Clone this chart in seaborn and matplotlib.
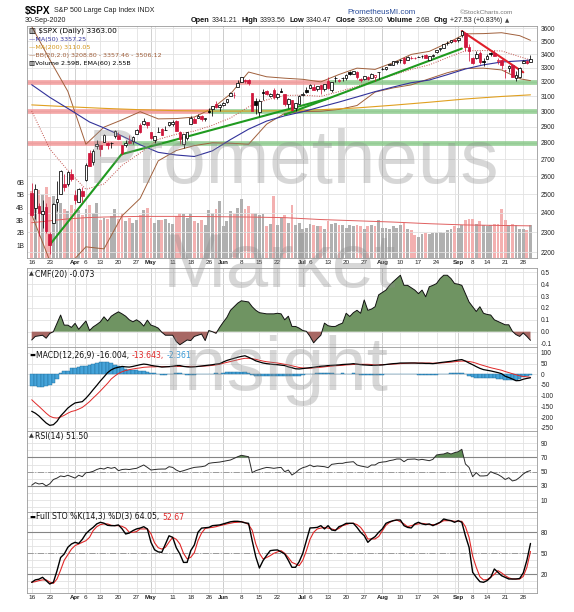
import numpy as np
import pandas as pd
import matplotlib
matplotlib.use("Agg")
import matplotlib.pyplot as plt
from matplotlib.ticker import FixedLocator, NullLocator, FixedFormatter
import seaborn as sns

sns.set_theme(style="white")
plt.rcParams['font.family'] = ['Liberation Sans', 'DejaVu Sans']
plt.rcParams['axes.linewidth'] = 0.6

# ---------------- data ----------------
holidays = ['2020-04-10', '2020-05-25', '2020-07-03', '2020-09-07']
dates = pd.bdate_range('2020-03-16', '2020-09-30')
dates = dates[~dates.isin(pd.to_datetime(holidays))]

prev_close = 2711.02

opens = [2508.59, 2425.66, 2436.50, 2393.48, 2431.94, 2290.71, 2344.44, 2457.77, 2501.29, 2555.87,
         2558.98, 2614.69, 2498.08, 2458.54, 2514.92, 2578.28, 2738.65, 2685.00, 2776.99, 2782.46,
         2805.10, 2795.64, 2799.34, 2842.43, 2845.62, 2784.81, 2787.89, 2810.42, 2812.64, 2854.65,
         2909.96, 2918.46, 2930.91, 2869.09, 2815.01, 2868.88, 2883.14, 2878.26, 2908.83, 2915.46,
         2939.50, 2865.86, 2794.54, 2829.95, 2913.86, 2948.59, 2953.63, 2969.95, 2948.05, 3004.08,
         3015.65, 3046.61, 3025.17, 3038.78, 3064.78, 3098.90, 3111.56, 3163.84, 3199.92, 3213.32,
         3213.42, 3123.53, 3071.04, 2993.76, 3131.00, 3136.13, 3101.64, 3140.29, 3094.42, 3138.70,
         3114.40, 3046.60, 3073.20, 3018.59, 3050.20, 3105.92, 3143.64, 3155.29, 3166.44, 3153.07,
         3176.17, 3152.47, 3205.08, 3141.11, 3225.98, 3208.36, 3224.21, 3224.29, 3268.52, 3254.86,
         3271.64, 3218.58, 3219.84, 3234.27, 3227.22, 3231.76, 3270.45, 3288.26, 3289.92, 3317.37,
         3323.17, 3340.05, 3356.04, 3370.34, 3355.46, 3372.95, 3368.66, 3380.86, 3387.04, 3392.51,
         3360.48, 3386.01, 3418.09, 3435.95, 3449.97, 3485.14, 3494.69, 3509.73, 3507.44, 3543.76,
         3564.74, 3453.60, 3371.88, 3369.82, 3412.56, 3352.70, 3363.56, 3407.73, 3411.23, 3346.86,
         3357.38, 3285.57, 3295.75, 3320.11, 3226.14, 3236.66, 3333.90, 3350.92, 3341.21]
highs = [2562.98, 2553.93, 2453.57, 2466.97, 2453.01, 2300.73, 2449.71, 2571.42, 2637.01, 2615.91,
         2631.80, 2641.39, 2522.75, 2533.22, 2538.18, 2676.85, 2756.89, 2760.75, 2818.57, 2782.46,
         2851.85, 2801.88, 2806.51, 2879.22, 2868.98, 2785.54, 2815.10, 2844.90, 2842.71, 2887.72,
         2921.15, 2954.86, 2930.91, 2869.09, 2844.24, 2898.23, 2891.11, 2901.92, 2932.16, 2944.25,
         2945.82, 2874.14, 2852.80, 2865.01, 2968.09, 2964.21, 2980.29, 2978.50, 2956.76, 3021.72,
         3036.25, 3068.67, 3049.17, 3062.18, 3081.07, 3130.94, 3128.91, 3211.72, 3233.13, 3222.71,
         3223.27, 3123.53, 3088.42, 3079.76, 3153.45, 3141.16, 3120.00, 3155.53, 3120.92, 3154.90,
         3115.01, 3086.25, 3073.73, 3053.89, 3111.51, 3128.44, 3165.81, 3182.59, 3184.15, 3171.80,
         3179.78, 3186.82, 3235.32, 3200.95, 3238.28, 3220.39, 3233.52, 3258.61, 3277.29, 3279.32,
         3279.99, 3227.26, 3241.43, 3243.72, 3264.74, 3250.92, 3272.17, 3302.73, 3306.84, 3330.77,
         3351.03, 3352.54, 3363.29, 3381.01, 3387.89, 3387.24, 3378.51, 3387.59, 3395.06, 3399.54,
         3390.80, 3399.96, 3432.09, 3444.21, 3481.07, 3501.38, 3509.23, 3514.77, 3528.03, 3588.11,
         3564.85, 3479.15, 3379.97, 3424.77, 3425.55, 3368.95, 3402.93, 3419.48, 3428.92, 3375.17,
         3362.27, 3285.57, 3320.31, 3323.35, 3278.70, 3306.88, 3360.74, 3357.92, 3393.56]
lows = [2380.94, 2367.04, 2280.52, 2319.78, 2295.56, 2191.86, 2344.44, 2407.53, 2500.72, 2520.02,
        2545.28, 2571.15, 2447.49, 2455.79, 2459.96, 2574.57, 2657.67, 2663.30, 2762.36, 2721.17,
        2805.10, 2761.54, 2764.32, 2830.88, 2820.43, 2727.10, 2775.95, 2794.26, 2791.76, 2852.89,
        2860.71, 2912.16, 2892.47, 2821.61, 2797.85, 2863.55, 2847.65, 2876.48, 2902.88, 2903.44,
        2869.59, 2793.15, 2766.64, 2816.78, 2913.86, 2922.35, 2953.63, 2938.57, 2933.59, 2988.17,
        2969.75, 3023.40, 2998.61, 3031.54, 3051.64, 3098.90, 3090.41, 3163.84, 3196.00, 3193.11,
        3181.49, 2999.49, 2984.47, 2965.66, 3076.06, 3108.03, 3093.51, 3083.11, 3079.39, 3127.12,
        3032.13, 3024.01, 3004.63, 2999.74, 3047.83, 3101.17, 3124.52, 3155.29, 3142.93, 3136.53,
        3115.70, 3136.22, 3149.43, 3127.66, 3200.76, 3198.59, 3205.65, 3215.16, 3247.77, 3253.10,
        3222.66, 3200.05, 3214.25, 3216.17, 3227.22, 3204.13, 3220.26, 3284.53, 3286.37, 3317.37,
        3318.14, 3328.72, 3335.44, 3326.44, 3355.46, 3363.35, 3361.64, 3379.22, 3370.15, 3369.66,
        3354.69, 3379.31, 3413.13, 3425.84, 3444.15, 3468.35, 3484.32, 3493.25, 3494.60, 3535.23,
        3427.41, 3349.63, 3329.27, 3366.84, 3329.25, 3310.47, 3363.56, 3389.25, 3384.45, 3328.82,
        3292.40, 3229.10, 3270.95, 3232.57, 3209.45, 3228.44, 3332.91, 3327.54, 3340.47]
close = [2386.13, 2529.19, 2398.10, 2409.39, 2304.92, 2237.40, 2447.33, 2475.56, 2630.07, 2541.47,
         2626.65, 2584.59, 2470.50, 2526.90, 2488.65, 2663.68, 2659.41, 2749.98, 2789.82, 2761.63,
         2846.06, 2783.36, 2799.55, 2874.56, 2823.16, 2736.56, 2799.31, 2797.80, 2836.74, 2878.48,
         2863.39, 2939.51, 2912.43, 2830.71, 2842.74, 2868.44, 2848.42, 2881.19, 2929.80, 2930.32,
         2870.12, 2820.00, 2852.50, 2863.70, 2953.91, 2922.94, 2971.61, 2948.51, 2955.45, 2991.77,
         3036.13, 3029.73, 3044.31, 3055.73, 3080.82, 3122.87, 3112.35, 3193.93, 3232.39, 3207.18,
         3190.14, 3002.10, 3041.31, 3066.59, 3124.74, 3113.49, 3115.34, 3097.74, 3117.86, 3131.29,
         3050.33, 3083.76, 3009.05, 3053.24, 3100.29, 3115.86, 3130.01, 3179.72, 3145.32, 3169.94,
         3152.05, 3185.04, 3155.22, 3197.52, 3226.56, 3215.57, 3224.73, 3251.84, 3257.30, 3276.02,
         3235.66, 3215.63, 3239.41, 3218.44, 3258.44, 3246.22, 3271.12, 3294.61, 3306.51, 3327.77,
         3349.16, 3351.28, 3360.47, 3333.69, 3380.35, 3373.43, 3372.85, 3381.99, 3389.78, 3374.85,
         3385.51, 3397.16, 3431.28, 3443.62, 3478.73, 3484.55, 3508.01, 3500.31, 3526.65, 3580.84,
         3455.06, 3426.96, 3331.84, 3398.96, 3339.19, 3340.97, 3383.54, 3401.20, 3385.49, 3357.01,
         3319.47, 3281.06, 3315.57, 3236.92, 3246.59, 3298.46, 3351.60, 3335.47, 3363.00]
volume_b = [5.3, 5.0, 5.4, 5.1, 5.6, 4.8, 4.9, 4.6, 4.4, 3.9,
            3.7, 4.2, 3.9, 3.8, 3.4, 3.9, 4.2, 3.6, 4.4, 3.0,
            3.2, 3.1, 3.3, 3.9, 3.1, 3.6, 2.9, 3.2, 2.8, 3.0,
            3.4, 3.8, 4.0, 3.2, 2.8, 3.0, 3.0, 3.1, 2.8, 2.7,
            3.3, 3.6, 3.5, 3.2, 3.6, 2.9, 2.8, 3.0, 2.6, 3.8,
            3.6, 3.9, 4.5, 2.5, 2.9, 3.7, 3.5, 4.0, 4.7, 3.9,
            4.1, 3.6, 3.6, 3.4, 3.5, 2.5, 2.7, 4.9, 2.6, 3.2,
            3.4, 2.8, 4.2, 2.6, 2.8, 2.3, 2.4, 2.7, 2.6, 2.5,
            2.5, 2.3, 2.9, 2.7, 2.8, 2.6, 2.6, 2.4, 2.6, 2.5,
            2.6, 2.5, 2.3, 2.5, 2.6, 2.5, 3.0, 2.4, 2.4, 2.3,
            2.5, 2.4, 2.6, 2.8, 2.3, 2.2, 1.8, 1.7, 1.9, 2.0,
            1.9, 2.0, 2.0, 2.1, 2.0, 2.2, 2.3, 2.5, 2.4, 2.6,
            3.0, 3.1, 3.1, 2.7, 2.9, 2.6, 2.5, 2.6, 2.7, 2.7,
            3.9, 3.0, 2.6, 2.7, 2.6, 2.3, 2.3, 2.2, 2.59]

vol_ema_dates = ['2020-03-16', '2020-03-23', '2020-03-30', '2020-04-06', '2020-04-14', '2020-04-28',
                 '2020-05-12', '2020-05-27', '2020-06-10', '2020-06-24', '2020-07-09', '2020-07-23',
                 '2020-08-06', '2020-08-20', '2020-09-03', '2020-09-18', '2020-09-30']
vol_ema = [2.8, 2.95, 3.1, 3.2, 3.25, 3.3, 3.3, 3.28, 3.25, 3.2, 3.05, 2.95, 2.85, 2.72, 2.62, 2.58, 2.55]

ma50_dates = ['2020-03-16', '2020-03-23', '2020-03-31', '2020-04-07', '2020-04-14', '2020-04-21',
              '2020-04-28', '2020-05-05', '2020-05-12', '2020-05-19', '2020-05-27', '2020-06-03',
              '2020-06-10', '2020-06-17', '2020-06-24', '2020-07-01', '2020-07-09', '2020-07-16',
              '2020-07-23', '2020-07-30', '2020-08-06', '2020-08-13', '2020-08-20', '2020-08-27',
              '2020-09-03', '2020-09-11', '2020-09-18', '2020-09-25', '2020-09-30']
ma50 = [3180, 3093, 3004, 2930, 2892, 2841, 2787, 2741, 2725, 2716, 2750, 2819, 2884, 2936, 2970,
        2997, 3029, 3061, 3096, 3132, 3164, 3194, 3213, 3251, 3292, 3322, 3343, 3351, 3357.25]

ma200_dates = ['2020-03-16', '2020-03-30', '2020-04-14', '2020-04-28', '2020-05-12', '2020-05-27',
               '2020-06-10', '2020-06-24', '2020-07-09', '2020-07-23', '2020-08-06', '2020-08-20',
               '2020-09-03', '2020-09-18', '2020-09-30']
ma200 = [3042, 3030, 3019, 3010, 3004, 3001, 3001, 3003, 3010, 3022, 3040, 3060, 3082, 3099, 3110.05]

bb_dates = ['2020-03-16', '2020-03-23', '2020-03-30', '2020-04-06', '2020-04-14', '2020-04-21',
            '2020-04-28', '2020-05-05', '2020-05-12', '2020-05-19', '2020-05-27', '2020-06-03',
            '2020-06-10', '2020-06-17', '2020-06-24', '2020-07-01', '2020-07-09', '2020-07-16',
            '2020-07-23', '2020-07-30', '2020-08-06', '2020-08-13', '2020-08-20', '2020-08-27',
            '2020-09-03', '2020-09-11', '2020-09-18', '2020-09-25', '2020-09-30']
bb_mid = [3002, 2761, 2634, 2527, 2557, 2664, 2737, 2820, 2852, 2872, 2909, 2956, 3029, 3076, 3106,
          3108, 3100, 3132, 3168, 3209, 3248, 3289, 3322, 3375, 3426, 3428, 3425, 3382, 3357.46]
bb_upper = [3615, 3360, 3134, 2790, 2897, 2944, 2997, 2950, 2952, 2962, 3019, 3116, 3270, 3236, 3226,
            3218, 3200, 3252, 3298, 3289, 3338, 3399, 3422, 3485, 3556, 3558, 3565, 3542, 3506.12]
bb_lower = [2390, 2160, 2134, 2227, 2217, 2384, 2477, 2690, 2752, 2782, 2799, 2796, 2790, 2916, 2986,
            2998, 3000, 3012, 3038, 3129, 3158, 3179, 3222, 3265, 3296, 3298, 3285, 3222, 3208.80]

# hand-drawn trend lines: (start date, start price, end date, end price)
green_lines = [('2020-03-23', 2237, '2020-04-21', 2733),
               ('2020-04-21', 2730, '2020-07-13', 3085),
               ('2020-06-24', 2977, '2020-09-02', 3443)]
red_lines = [('2020-09-02', 3578, '2020-09-28', 3268)]
# support / resistance bands: (price, date where colour switches from red to green)
bands = [(3200, '2020-07-13'), (3000, '2020-05-26'), (2800, '2020-04-21')]

cmf = [-0.07, -0.04, -0.035, -0.03, -0.055, -0.015, 0.00, 0.07, 0.14, 0.055,
       0.055, 0.036, 0.07, 0.02, 0.055, 0.09, 0.01, 0.04, 0.06, 0.083,
       0.125, 0.09, 0.13, 0.15, 0.167, 0.15, 0.13, 0.10, 0.083, 0.10,
       0.08, 0.047, 0.097, 0.055, 0.045, 0.03, -0.005, -0.03, -0.03, -0.03,
       -0.083, -0.11, -0.09, -0.07, -0.075, -0.04, -0.03, -0.02, -0.075, 0.01,
       0.00, -0.014, 0.036, 0.08, 0.12, 0.18, 0.21, 0.24, 0.26, 0.255,
       0.25, 0.21, 0.18, 0.16, 0.155, 0.15, 0.15, 0.15, 0.155, 0.15,
       0.10, 0.13, 0.044, 0.044, 0.03, 0.01, 0.003, -0.04, -0.094, -0.06,
       -0.03, 0.072, 0.05, 0.044, 0.044, 0.06, 0.072, 0.155, 0.128, 0.16,
       0.18, 0.155, 0.267, 0.18, 0.19, 0.21, 0.31, 0.33, 0.35, 0.39,
       0.42, 0.447, 0.475, 0.39, 0.39, 0.37, 0.35, 0.32, 0.35, 0.294,
       0.378, 0.39, 0.405, 0.447, 0.475, 0.475, 0.447, 0.405, 0.40, 0.39,
       0.32, 0.25, 0.21, 0.17, 0.21, 0.155, 0.145, 0.14, 0.10, 0.086,
       0.072, 0.058, 0.058, 0.003, -0.025, -0.04, -0.011, -0.04, -0.073]

macd = [-173, -182, -195, -212, -228, -239, -236, -220, -195, -177,
        -158, -145, -134, -131, -128, -112, -93, -72, -52, -31,
        -12, 8, 21, 29, 33, 37, 35, 34, 37, 41,
        45, 48, 46, 42, 39, 37, 34, 35, 36, 38,
        41, 41, 37, 35, 34, 35, 37, 39, 41, 43,
        45, 48, 50, 58, 65, 70, 75, 80, 84, 87,
        80, 72, 63, 58, 53, 50, 48, 46, 45, 43,
        41, 35, 31, 26, 25, 27, 29, 31, 33, 36,
        38, 39, 41, 42, 43, 44, 46, 47, 48, 50,
        48, 45, 44, 43, 42, 42, 43, 44, 46, 48,
        50, 51, 53, 53, 53, 53, 53, 52, 52, 51,
        51, 50, 52, 55, 57, 59, 61, 64, 67, 69,
        62, 53, 45, 36, 28, 22, 19, 16, 12, 8,
        3, -9, -15, -22, -30, -29, -23, -19, -16.004]
macd_signal = [-119, -135, -150, -166, -182, -196, -203, -205, -200, -192,
               -182, -174, -170, -163, -155, -142, -128, -111, -95, -78,
               -60, -42, -22, -8, 4, 12, 18, 22, 25, 28,
               30, 33, 34, 35, 35, 36, 36, 36, 36, 36,
               37, 37, 37, 37, 37, 37, 37, 38, 39, 40,
               42, 44, 47, 52, 56, 60, 64, 68, 72, 75,
               75, 73, 70, 66, 62, 59, 57, 55, 53, 50,
               47, 44, 40, 36, 32, 30, 29, 29, 30, 32,
               33, 35, 37, 38, 40, 41, 42, 44, 45, 46,
               47, 47, 47, 47, 46, 45, 45, 45, 46, 47,
               48, 49, 50, 51, 52, 53, 53, 53, 53, 53,
               53, 52, 53, 53, 54, 56, 57, 59, 61, 62,
               62, 60, 57, 52, 46, 41, 36, 31, 27, 23,
               19, 13, 8, 3, -2, -7, -10, -12, -13.643]
macd_hist = [-54, -56, -58, -58, -56, -48, -40, -20, 5, 14,
             14, 30, 30, 32, 37, 40, 45, 48, 55, 58,
             58, 56, 53, 45, 37, 34, 27, 22, 22, 20,
             15, 14, 12, 8, 5, 2, -1, -1, 0, 2,
             4, 4, 0, -2, -3, -2, 0, 1, 2, 3,
             3, 4, 3, 6, 9, 10, 11, 12, 12, 12,
             5, -1, -7, -8, -9, -9, -9, -9, -8, -7,
             -6, -9, -9, -10, -7, -3, 0, 2, 3, 4,
             5, 4, 4, 4, 3, 3, 4, 3, 3, 4,
             1, -2, -3, -4, -4, -3, -2, -1, 0, 1,
             2, 2, 3, 2, 1, 0, 0, -1, -1, -2,
             -2, -2, -1, 2, 3, 3, 4, 5, 6, 7,
             0, -7, -12, -16, -18, -19, -17, -15, -18, -20,
             -22, -25, -27, -28, -28, -22, -13, -7, -2.361]

rsi = [31, 34.6, 32.7, 33.6, 30, 33, 39, 41, 44, 43,
       45, 43, 41, 45, 43, 48.6, 49, 50.5, 53, 54.7,
       53.7, 56, 54.7, 56, 51.4, 53, 53.5, 53, 54, 54.7,
       57, 59.4, 56, 52.3, 53, 53.5, 53.7, 53.7, 57, 56,
       52.3, 50, 51.4, 53, 54.7, 56, 56.5, 57, 58, 61.7,
       62.5, 63, 63.5, 64.5, 65.5, 66.4, 68.7, 71, 73, 72,
       71, 48.6, 51.4, 53, 54.7, 56, 55.5, 54.7, 55.5, 56,
       50, 52.3, 45.3, 48.6, 53, 55.6, 57, 59.4, 57, 58,
       57.5, 57, 55.6, 60.3, 61, 61.7, 61.7, 63, 63.5, 64,
       59.4, 58, 57, 56, 59.4, 59.4, 62.6, 63.5, 64, 65.5,
       66.4, 67.8, 67.8, 64, 67.3, 67.5, 67.8, 66.4, 67.3, 66.4,
       65.4, 67.3, 73.4, 74.3, 74.8, 76.7, 74.8, 76.7, 78, 81.4,
       60.8, 56, 43, 48.6, 44, 44, 44.5, 50, 47.7, 46,
       43, 39, 41.6, 37, 38.3, 42, 46.7, 50, 51.5]

sto_k = [8.6, 12, 13, 15.7, 11, 6.2, 8.6, 25, 44, 49,
         58.6, 63.3, 65.7, 64, 70, 78, 83, 87, 92, 94.3,
         93, 90, 89.5, 89.5, 90.5, 85, 77.6, 79, 82.4, 84.8,
         86, 88, 84.8, 65.7, 55, 52, 51.4, 63.3, 75, 72.8,
         58, 49, 37, 37, 53.8, 62, 80, 86, 86.5, 87,
         89.5, 90, 90.5, 92, 93.5, 95, 95.7, 95.7, 95, 93.5,
         92.8, 68, 45, 29, 39.5, 47, 53.8, 54.5, 54.8, 52,
         49, 40, 30, 30, 38, 50, 68, 86.2, 86.5, 87,
         89.5, 84.8, 89.5, 83.3, 82.4, 88, 90, 92.8, 92.8, 92.8,
         87, 80, 75.2, 65.7, 70.5, 73.8, 80, 84.8, 92.8, 95,
         96.6, 97.6, 97.6, 89.5, 87, 86.2, 92, 94.3, 92, 91,
         92, 89.5, 92, 94.3, 99, 97.6, 96.6, 94.3, 96.6, 94.3,
         75, 58.6, 22.9, 15.7, 9.5, 8.6, 11, 15.7, 27.6, 22.9,
         18, 15.7, 13.3, 13.3, 13.3, 14, 22, 40, 64.05]
sto_d = [8.6, 9.5, 11, 12, 12, 9, 7, 13.3, 26, 40,
         48, 56, 61, 63.3, 65.7, 68, 72.8, 82.4, 88, 91,
         92, 92, 90, 89.5, 89.5, 88.5, 86, 80, 80, 81,
         84.8, 84.8, 84.8, 78, 65, 58, 56, 58.6, 66, 72.8,
         70, 63.3, 50, 42, 44.3, 51, 68, 79, 85.5, 86.5,
         87, 88, 89.5, 90.5, 92, 93, 94, 94.3, 95, 94,
         91, 83, 63.3, 50, 42, 44, 46.7, 50, 52, 53.8,
         50, 44, 37, 34.8, 32.4, 40, 53.8, 70, 80, 84.8,
         86, 87, 86, 84.8, 83.3, 85.5, 89.5, 91, 92.8, 92.8,
         91, 87, 80, 70.5, 70.5, 70.5, 74, 82, 90, 94,
         96.5, 97.6, 95, 92, 88, 89.5, 91, 92, 92.8, 92,
         91, 91, 91, 94, 96.6, 96.6, 96.6, 95.7, 95.7, 95.7,
         88, 72.8, 46, 30, 16.5, 12, 12.5, 16, 20, 25.2,
         22, 18, 15, 13.3, 13.3, 13.3, 17, 30, 52.67]

xtick_dates = ['2020-03-16', '2020-03-23', '2020-04-01', '2020-04-06', '2020-04-13', '2020-04-20',
               '2020-04-27', '2020-05-01', '2020-05-11', '2020-05-18', '2020-05-26', '2020-06-01',
               '2020-06-08', '2020-06-15', '2020-06-22', '2020-07-01', '2020-07-06', '2020-07-13',
               '2020-07-20', '2020-07-27', '2020-08-03', '2020-08-10', '2020-08-17', '2020-08-24',
               '2020-09-01', '2020-09-08', '2020-09-14', '2020-09-21', '2020-09-28']
xtick_labels = ['16', '23', 'Apr', '6', '13', '20', '27', 'May', '11', '18', '26', 'Jun', '8', '15',
                '22', 'Jul', '6', '13', '20', '27', 'Aug', '10', '17', '24', 'Sep', '8', '14', '21', '28']
month_names = ['Apr', 'May', 'Jun', 'Jul', 'Aug', 'Sep']
week_dates = ['2020-03-16', '2020-03-23', '2020-03-30', '2020-04-06', '2020-04-13', '2020-04-20',
              '2020-04-27', '2020-05-04', '2020-05-11', '2020-05-18', '2020-05-26', '2020-06-01',
              '2020-06-08', '2020-06-15', '2020-06-22', '2020-06-29', '2020-07-06', '2020-07-13',
              '2020-07-20', '2020-07-27', '2020-08-03', '2020-08-10', '2020-08-17', '2020-08-24',
              '2020-08-31', '2020-09-08', '2020-09-14', '2020-09-21', '2020-09-28']
month_dates = ['2020-04-01', '2020-05-01', '2020-06-01', '2020-07-01', '2020-08-03', '2020-09-01']

price_ticks = [2200, 2300, 2400, 2500, 2600, 2700, 2800, 2900, 3000, 3100, 3200, 3300, 3400, 3500, 3600]
vol_ticks = [1, 2, 3, 4, 5, 6]
vol_tick_labels = ['1B', '2B', '3B', '4B', '5B', '6B']
cmf_ticks = [0.5, 0.4, 0.3, 0.2, 0.1, 0.0, -0.1]
macd_ticks = [100, 50, 0, -50, -100, -150, -200, -250]
rsi_ticks = [90, 70, 50, 30, 10]
sto_ticks = [80, 50, 20]

# ---------------- figure ----------------
W, H = 574, 612
L, R = 27, 537
fig = plt.figure(figsize=(W / 100, H / 100), dpi=100)
fig.patch.set_facecolor('white')
renderer = fig.canvas.get_renderer()

def rect(top, bottom):
    return [L / W, 1 - bottom / H, (R - L) / W, (bottom - top) / H]

def pos(ds):
    return dates.get_indexer(pd.to_datetime(ds)).astype(float)

n = len(close)
x = np.arange(n, dtype=float)
o = np.array(opens); h = np.array(highs); lo = np.array(lows); c = np.array(close)
XL = (-1.3, 139.8)
GRID = '#e2e2e2'
GRID_M = '#c9c9c9'
SPINE = '#9a9a9a'
RED = '#d0173c'
TICKC = '#222222'

week_x = pos(week_dates)
month_x = pos(month_dates)
tick_x = pos(xtick_dates)

def vgrid(a):
    for gx in week_x:
        a.axvline(gx, color=GRID, lw=0.6, zorder=0)
    for gx in month_x:
        a.axvline(gx, color=GRID_M, lw=0.6, zorder=0)

def right_ticks(a, ticks, labels):
    a.yaxis.tick_right()
    a.yaxis.set_major_locator(FixedLocator(ticks))
    a.yaxis.set_minor_locator(NullLocator())
    a.yaxis.set_major_formatter(FixedFormatter(labels))
    a.tick_params(axis='y', which='both', length=0, pad=2.5, labelsize=4.7,
                  labelcolor=TICKC, left=False, labelleft=False)

def spines(a):
    for s in a.spines.values():
        s.set_color(SPINE)
        s.set_linewidth(0.6)

def date_ticks(a):
    a.set_xticks(tick_x)
    a.set_xticklabels(xtick_labels)
    a.tick_params(axis='x', length=0, pad=1.6, labelsize=4.6, labelcolor=TICKC)
    for lab in a.get_xticklabels():
        if lab.get_text() in month_names:
            lab.set_fontweight('bold')
            lab.set_fontsize(4.4)

def put_runs(xp, yp, runs, ha='left'):
    arts, widths, gaps = [], [], []
    for s, kw, gap in runs:
        t = fig.text(0, 0, s, va='center', ha='left', **kw)
        arts.append(t)
        widths.append(t.get_window_extent(renderer).width)
        gaps.append(gap)
    total = sum(widths) + sum(gaps[1:])
    cx = xp if ha == 'left' else xp - total
    for i, (t, w) in enumerate(zip(arts, widths)):
        if i > 0:
            cx += gaps[i]
        t.set_position((cx / W, 1 - yp / H))
        cx += w

# ---------- main price panel ----------
axv = fig.add_axes(rect(26, 258))
ax = fig.add_axes(rect(26, 258))
ax.set_zorder(axv.get_zorder() + 1)
ax.patch.set_visible(False)

axv.set_xlim(*XL)
axv.set_ylim(0, 18.4)
vgrid(axv)
prev = np.concatenate([[prev_close], c[:-1]])
down = c < prev
vcol = np.where(down, '#f3b0b0', '#b0b0b0')
axv.bar(x, volume_b, width=0.78, color=vcol, edgecolor='none', zorder=1)
sns.lineplot(x=pos(vol_ema_dates), y=vol_ema, ax=axv, color='#e06060', linewidth=0.7, legend=False)
axv.yaxis.set_major_locator(FixedLocator(vol_ticks))
axv.yaxis.set_major_formatter(FixedFormatter(vol_tick_labels))
axv.tick_params(axis='y', length=0, pad=2, labelsize=4.7, labelcolor=TICKC, right=False, labelright=False)
axv.set_xticks([])
axv.set_xlabel(''); axv.set_ylabel('')
for s in axv.spines.values():
    s.set_visible(False)

ax.set_yscale('log')
ax.set_xlim(*XL)
ax.set_ylim(2173, 3618)
for p in price_ticks:
    ax.axhline(p, color=GRID, lw=0.6, zorder=0)
right_ticks(ax, price_ticks, [str(p) for p in price_ticks])

for price, sw in bands:
    sx = pos([sw])[0]
    ax.plot([XL[0], sx], [price, price], color='#f08a8a', lw=3.4, alpha=0.75, solid_capstyle='butt', zorder=1)
    ax.plot([sx, XL[1]], [price, price], color='#7cc47c', lw=3.4, alpha=0.75, solid_capstyle='butt', zorder=1)

bbx = pos(bb_dates)
sns.lineplot(x=bbx, y=bb_upper, ax=ax, color='#a0603c', linewidth=0.7, legend=False)
sns.lineplot(x=bbx, y=bb_lower, ax=ax, color='#a0603c', linewidth=0.7, legend=False)
ax.plot(bbx, bb_mid, color='#c0504a', lw=0.7, linestyle=(0, (1, 1.5)), zorder=2)
sns.lineplot(x=pos(ma200_dates), y=ma200, ax=ax, color='#e0a020', linewidth=0.8, legend=False)
sns.lineplot(x=pos(ma50_dates), y=ma50, ax=ax, color='#32329a', linewidth=0.8, legend=False)

for d0, p0, d1, p1 in green_lines:
    ax.plot(pos([d0, d1]), [p0, p1], color='#1f9a1f', lw=1.5, zorder=3, solid_capstyle='round')
for d0, p0, d1, p1 in red_lines:
    ax.plot(pos([d0, d1]), [p0, p1], color='#e0202a', lw=1.5, zorder=3, solid_capstyle='round')

ccol = np.where(down, RED, 'black')
ax.vlines(x, lo, h, colors=ccol, lw=0.55, zorder=4)
body_bottom = np.minimum(o, c)
body_h = np.maximum(np.abs(c - o), 0.8)
face = np.where(c < o, ccol, 'white')
ax.bar(x, body_h, bottom=body_bottom, width=0.72, color=face, edgecolor=ccol, linewidth=0.55, zorder=5)
ax.set_xlabel(''); ax.set_ylabel('')
date_ticks(ax)
spines(ax)

# legend of main panel
DJ = 'DejaVu Sans'
put_runs(29, 31, [('\u25a5 $SPX (Daily) 3363.00', dict(size=5.3, family=DJ, color='black'), 0)])
put_runs(29, 39, [('\u2014MA(50) 3357.25', dict(size=4.6, family=DJ, color='#32329a'), 0)])
put_runs(29, 47, [('\u2014MA(200) 3110.05', dict(size=4.6, family=DJ, color='#d4961a'), 0)])
put_runs(29, 55, [('\u2014BB(20,2.0) 3208.80 - 3357.46 - 3506.12', dict(size=4.6, family=DJ, color='#a0603c'), 0)])
put_runs(29, 63, [('\u25a5Volume 2.59B, EMA(60) 2.55B', dict(size=4.6, family=DJ, color='black'), 0)])

# ---------- CMF ----------
a1 = fig.add_axes(rect(268, 347))
a1.set_xlim(*XL); a1.set_ylim(-0.129, 0.536)
vgrid(a1)
for gy in cmf_ticks:
    a1.axhline(gy, color=GRID, lw=0.6, zorder=0)
cm = np.array(cmf)
a1.fill_between(x, cm, 0, where=cm >= 0, interpolate=True, color='#6f9462', lw=0, zorder=1)
a1.fill_between(x, cm, 0, where=cm < 0, interpolate=True, color='#a86864', lw=0, zorder=1)
sns.lineplot(x=x, y=cm, ax=a1, color='#111111', linewidth=0.7, legend=False)
right_ticks(a1, cmf_ticks, ['0.5', '0.4', '0.3', '0.2', '0.1', '0.0', '-0.1'])
a1.set_xticks([]); a1.set_xlabel(''); a1.set_ylabel('')
spines(a1)
put_runs(29, 274, [('\u25b2', dict(size=4.5, family=DJ, color='#333'), 0),
                   ('CMF(20) -0.073', dict(size=5.6, family=DJ, color='#111'), 1.5)])

# ---------- MACD ----------
a2 = fig.add_axes(rect(347, 431))
a2.set_xlim(*XL); a2.set_ylim(-265.5, 128)
vgrid(a2)
for gy in macd_ticks:
    a2.axhline(gy, color=GRID, lw=0.6, zorder=0)
a2.bar(x, macd_hist, width=1.0, color='#45a3d9', edgecolor='#1d6a99', linewidth=0.3, zorder=1)
sns.lineplot(x=x, y=macd_signal, ax=a2, color='#e02828', linewidth=0.7, legend=False)
sns.lineplot(x=x, y=macd, ax=a2, color='black', linewidth=0.9, legend=False)
right_ticks(a2, macd_ticks, [str(v) for v in macd_ticks])
a2.set_xticks([]); a2.set_xlabel(''); a2.set_ylabel('')
spines(a2)
put_runs(29, 355, [('\u25ac', dict(size=4.5, family=DJ, color='black'), 0),
                   ('MACD(12,26,9) -16.004,', dict(size=5.6, family=DJ, color='#111'), 1.5),
                   ('-13.643,', dict(size=5.6, family=DJ, color='#e02828'), 2.5),
                   ('-2.361', dict(size=5.6, family=DJ, color='#3a9ad6'), 2.5)])

# ---------- RSI ----------
a3 = fig.add_axes(rect(431, 512))
a3.set_xlim(*XL); a3.set_ylim(-6.6, 107.1)
vgrid(a3)
for gy in range(0, 101, 10):
    a3.axhline(gy, color=GRID, lw=0.6, zorder=0)
a3.axhline(70, color='#858585', lw=0.8, zorder=1)
a3.axhline(30, color='#858585', lw=0.8, zorder=1)
a3.axhline(50, color='#9a9a9a', lw=0.7, linestyle='-.', zorder=1)
rs = np.array(rsi)
a3.fill_between(x, rs, 70, where=rs > 70, interpolate=True, color='#5f8b55', lw=0, zorder=2)
sns.lineplot(x=x, y=rs, ax=a3, color='#2a2a2a', linewidth=0.7, legend=False)
right_ticks(a3, rsi_ticks, [str(v) for v in rsi_ticks])
a3.set_xticks([]); a3.set_xlabel(''); a3.set_ylabel('')
spines(a3)
put_runs(29, 436, [('\u25b2', dict(size=4.5, family=DJ, color='#333'), 0),
                   ('RSI(14) 51.50', dict(size=5.6, family=DJ, color='#111'), 1.5)])

# ---------- Full STO ----------
a4 = fig.add_axes(rect(512, 593))
a4.set_xlim(*XL); a4.set_ylim(-6.7, 109)
vgrid(a4)
for gy in range(0, 101, 10):
    a4.axhline(gy, color=GRID, lw=0.6, zorder=0)
a4.axhline(80, color='#858585', lw=0.8, zorder=1)
a4.axhline(20, color='#858585', lw=0.8, zorder=1)
a4.axhline(50, color='#9a9a9a', lw=0.7, linestyle='-.', zorder=1)
sns.lineplot(x=x, y=sto_d, ax=a4, color='#e02828', linewidth=0.8, legend=False)
sns.lineplot(x=x, y=sto_k, ax=a4, color='black', linewidth=1.0, legend=False)
right_ticks(a4, sto_ticks, [str(v) for v in sto_ticks])
a4.set_xlabel(''); a4.set_ylabel('')
date_ticks(a4)
spines(a4)
put_runs(29, 517, [('\u25ac', dict(size=4.5, family=DJ, color='black'), 0),
                   ('Full STO %K(14,3) %D(3) 64.05,', dict(size=5.6, family=DJ, color='#111'), 1.5),
                   ('52.67', dict(size=5.6, family=DJ, color='#e02828'), 2.5)])

# ---------- header ----------
put_runs(25, 11, [('$SPX', dict(size=7.2, weight='bold', color='black'), 0),
                  ('S&P 500 Large Cap Index INDX', dict(size=5.0, color='#222'), 3)])
put_runs(347, 12, [('PrometheusMI.com', dict(size=5.7, color='#2a4d9b'), 0)])
put_runs(460, 12, [('\u00a9StockCharts.com', dict(size=4.6, color='#777'), 0)])
put_runs(25, 21, [('30-Sep-2020', dict(size=5.1, color='#222'), 0)])
B = dict(size=5.3, weight='bold', color='#111')
N = dict(size=5.0, color='#222')
put_runs(509, 21, [('Open', B, 0), ('3341.21', N, 2), ('High', B, 4), ('3393.56', N, 2),
                   ('Low', B, 4), ('3340.47', N, 2), ('Close', B, 4), ('3363.00', N, 2),
                   ('Volume', B, 4), ('2.6B', N, 2), ('Chg', B, 4), ('+27.53 (+0.83%)', N, 2),
                   ('\u25b2', dict(size=4.0, family=DJ, color='#444'), 2)], ha='right')

# ---------- watermark ----------
wm = dict(size=55, color='#8c8c8c', alpha=0.34, ha='left', va='baseline', zorder=50)
fig.text(88 / W, 1 - 183 / H, 'Prometheus', **wm)
fig.text(163 / W, 1 - 287 / H, 'Market', **wm)
fig.text(163 / W, 1 - 390 / H, 'Insight', **wm)

fig.savefig('out.png', dpi=100, facecolor='white')
